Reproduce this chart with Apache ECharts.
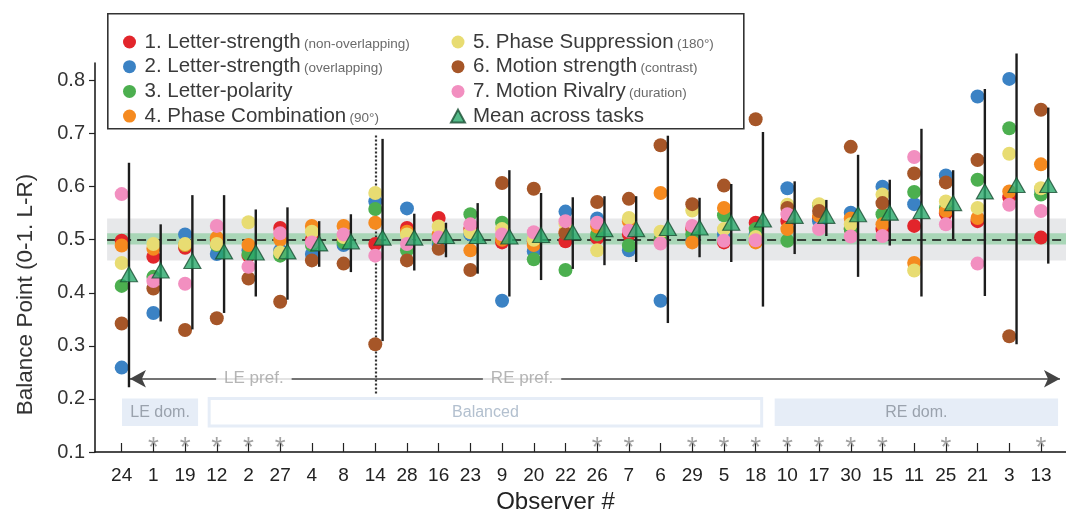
<!DOCTYPE html>
<html>
<head>
<meta charset="utf-8">
<script src="https://cdn.jsdelivr.net/npm/echarts@6/dist/echarts.min.js"></script>
<style>
  html, body { margin: 0; padding: 0; background: #fff; }
  #chart { width: 1066px; height: 519px; }
</style>
</head>
<body>
<div id="chart"></div>
<script>
// Observers, ordered from strongest left-eye to strongest right-eye preference
const observers = ['24','1','19','12','2','27','4','8','14','28','16','23','9','20','22',
                   '26','7','6','29','5','18','10','17','30','15','11','25','21','3','13'];

// Observers with a significant eye bias (marked with an asterisk above the axis)
const significant = ['1','19','12','2','27','26','7','29','5','18','10','17','30','15','25','13'];

const taskNames = ['1. Letter-strength', '2. Letter-strength', '3. Letter-polarity',
                   '4. Phase Combination', '5. Phase Suppression', '6. Motion strength',
                   '7. Motion Rivalry'];
const taskNotes = ['(non-overlapping)', '(overlapping)', '', '(90°)', '(180°)', '(contrast)', '(duration)'];
const meanName = 'Mean across tasks';

// Balance point per task, one value per observer (same order as `observers`)
const letterStrengthNonOverlap = [0.498,0.468,0.485,0.500,0.470,0.522,0.500,0.500,0.492,0.522,0.541,0.520,0.495,0.497,0.497,
                                  0.503,0.510,0.500,0.520,0.495,0.532,0.535,0.540,0.520,0.520,0.526,0.550,0.535,0.580,0.504];
const letterStrengthOverlap    = [0.259,0.362,0.510,0.473,0.480,0.480,0.473,0.490,0.572,0.559,0.490,0.510,0.385,0.478,0.553,
                                  0.540,0.480,0.385,0.500,0.510,0.510,0.597,0.535,0.551,0.600,0.567,0.621,0.770,0.803,0.594];
const letterPolarity           = [0.413,0.430,0.490,0.490,0.473,0.470,0.490,0.495,0.558,0.480,0.500,0.548,0.532,0.463,0.443,
                                  0.510,0.489,0.500,0.510,0.546,0.520,0.498,0.565,0.520,0.548,0.590,0.560,0.613,0.710,0.585];
const phaseCombination         = [0.489,0.483,0.490,0.504,0.490,0.500,0.526,0.526,0.532,0.515,0.510,0.480,0.500,0.490,0.515,
                                  0.525,0.535,0.588,0.495,0.560,0.495,0.520,0.545,0.540,0.529,0.456,0.554,0.541,0.591,0.642];
const phaseSuppression         = [0.456,0.492,0.492,0.492,0.533,0.476,0.515,0.505,0.588,0.510,0.525,0.514,0.520,0.500,0.530,
                                  0.480,0.541,0.515,0.555,0.520,0.505,0.566,0.567,0.529,0.585,0.442,0.572,0.560,0.662,0.597];
const motionStrength           = [0.342,0.408,0.330,0.352,0.427,0.383,0.461,0.455,0.303,0.461,0.483,0.443,0.607,0.596,0.512,
                                  0.571,0.577,0.678,0.567,0.602,0.727,0.560,0.554,0.675,0.569,0.625,0.608,0.650,0.318,0.745];
const motionRivalry            = [0.586,0.422,0.417,0.526,0.449,0.512,0.495,0.510,0.470,0.492,0.504,0.529,0.510,0.514,0.535,
                                  0.532,0.517,0.493,0.526,0.498,0.499,0.548,0.520,0.506,0.507,0.656,0.529,0.455,0.566,0.554];

// Mean across tasks and the extent of its vertical range bar
const meanAcrossTasks = [0.435,0.442,0.460,0.478,0.476,0.478,0.493,0.497,0.504,0.504,0.507,0.507,0.506,0.509,0.514,
                         0.520,0.520,0.522,0.523,0.532,0.538,0.545,0.545,0.548,0.551,0.554,0.569,0.591,0.603,0.603];
const rangeLow  = [0.222,0.346,0.331,0.362,0.393,0.387,0.449,0.439,0.309,0.442,0.467,0.436,0.393,0.424,0.445,
                   0.452,0.458,0.343,0.467,0.458,0.374,0.473,0.507,0.430,0.489,0.393,0.501,0.394,0.303,0.455];
const rangeHigh = [0.645,0.529,0.584,0.584,0.557,0.561,0.535,0.548,0.690,0.549,0.532,0.569,0.631,0.588,0.580,
                   0.582,0.582,0.696,0.579,0.605,0.703,0.610,0.575,0.660,0.613,0.709,0.631,0.784,0.851,0.749];

const yTicks = [0.1, 0.2, 0.3, 0.4, 0.5, 0.6, 0.7, 0.8];

// ---- styling ----
const FONT = '"Liberation Sans", Arial, Helvetica, sans-serif';
const taskColors = ['#e2252b', '#3b82c4', '#4caf4f', '#f58a1f', '#e8dc72', '#a65628', '#f28fc0'];
const BAR_SHIFT = 0.23;     // range bars and means sit just right of the task dots
const X_MIN = -0.842, X_MAX = 29.79;
const Y_MIN = 0.1, Y_MAX = 0.833;
const STAR_Y = 0.107;
const ARROW_Y = 0.238;
const SPLIT_X = observers.indexOf('14');

const taskValues = [letterStrengthNonOverlap, letterStrengthOverlap, letterPolarity, phaseCombination,
                    phaseSuppression, motionStrength, motionRivalry];
const fullName = t => taskNotes[t] ? taskNames[t] + ' ' + taskNotes[t] : taskNames[t];

const legendFormatter = name => {
  const t = taskValues.findIndex((_, k) => fullName(k) === name);
  if (t < 0) return '{a|' + name + '}';
  return taskNotes[t] ? '{a|' + taskNames[t] + '} {b|' + taskNotes[t] + '}' : '{a|' + taskNames[t] + '}';
};
const legendRich = {
  a: { fontSize: 20.5, lineHeight: 20, color: '#3a3a3a', fontFamily: FONT, padding: [0, 0, 0, 3] },
  b: { fontSize: 13.5, lineHeight: 20, color: '#6a6a6a', fontFamily: FONT, padding: [4, 0, 0, 0] }
};
const legendBase = {
  orient: 'vertical', itemWidth: 14, itemHeight: 13, itemGap: 3.7,
  selectedMode: false, z: 10, formatter: legendFormatter,
  textStyle: { rich: legendRich, fontFamily: FONT }
};

const taskSeries = taskValues.map((vals, t) => ({
  type: 'scatter', name: fullName(t), z: 3,
  symbol: 'circle', symbolSize: 14,
  itemStyle: { color: taskColors[t], opacity: 1 },
  emphasis: { disabled: true },
  data: vals.map((v, i) => [i, v])
}));

const option = {
  animation: false,
  backgroundColor: '#fff',
  textStyle: { fontFamily: FONT },
  grid: { left: 95, right: 0, top: 63, bottom: 61.5 },
  graphic: [{
    type: 'rect', left: 107, top: 13, z: 0,
    shape: { width: 636, height: 115 },
    style: { fill: '#fff', stroke: '#333', lineWidth: 1.6 }
  }],
  legend: [
    Object.assign({ left: 118, top: 26.5, data: taskNames.slice(0, 4).map((_, t) => fullName(t)) }, legendBase),
    Object.assign({ left: 445, top: 26.5, data: [fullName(4), fullName(5), fullName(6), meanName] }, legendBase)
  ],
  xAxis: {
    type: 'value', min: X_MIN, max: X_MAX,
    axisLine: { onZero: false, lineStyle: { color: '#111', width: 1.5 } },
    axisTick: { inside: true, length: 9, customValues: observers.map((_, i) => i),
                lineStyle: { color: '#222', width: 1.2 } },
    axisLabel: { customValues: observers.map((_, i) => i), formatter: v => observers[Math.round(v)],
                 fontSize: 19, color: '#222', margin: 14, fontFamily: FONT },
    splitLine: { show: false },
    name: 'Observer #', nameLocation: 'middle', nameGap: 38,
    nameTextStyle: { fontSize: 24, color: '#222', fontFamily: FONT, padding: [0, 50, 0, 0] }
  },
  yAxis: {
    type: 'value', min: Y_MIN, max: Y_MAX,
    axisLine: { onZero: false, lineStyle: { color: '#111', width: 1.5 } },
    axisTick: { length: 6, customValues: yTicks, lineStyle: { color: '#222', width: 1.2 } },
    axisLabel: { customValues: yTicks, formatter: v => v.toFixed(1),
                 fontSize: 20, color: '#333', margin: 10, fontFamily: FONT },
    splitLine: { show: false },
    name: 'Balance Point (0-1. L-R)', nameLocation: 'middle', nameGap: 58,
    nameTextStyle: { fontSize: 22.5, color: '#333', fontFamily: FONT, padding: [0, 74, 0, 0] }
  },
  series: [
    // reference bands, dominance boxes, split line and preference arrows
    {
      type: 'scatter', data: [], silent: true, z: 1,
      markArea: {
        silent: true, z: 1,
        data: [
          [{ coord: [-0.46, 0.461], itemStyle: { color: '#e7e8ea' } }, { coord: [X_MAX, 0.540] }],
          [{ coord: [-0.46, 0.491], itemStyle: { color: '#a9d6b7' } }, { coord: [X_MAX, 0.512] }],
          [{ name: 'LE dom.', coord: [0.01, 0.149], itemStyle: { color: '#e6edf7' } }, { coord: [2.41, 0.201] }],
          [{ name: 'Balanced', coord: [2.76, 0.149],
             itemStyle: { color: '#fff', borderColor: '#e6edf7', borderWidth: 3 },
             label: { color: '#b3c0cf' } }, { coord: [20.19, 0.201] }],
          [{ name: 'RE dom.', coord: [20.6, 0.149], itemStyle: { color: '#e6edf7' } }, { coord: [29.54, 0.201] }]
        ],
        label: { show: true, position: 'inside', fontSize: 16, color: '#9aa2ad', fontFamily: FONT }
      },
      markLine: {
        silent: true, z: 2, symbol: 'none',
        label: { show: false },
        data: [
          [{ coord: [-0.46, 0.5], lineStyle: { color: '#111', width: 1.6, type: [9, 6] } }, { coord: [X_MAX, 0.5] }],
          [{ coord: [SPLIT_X, 0.21], lineStyle: { color: '#333', width: 2.2, type: [2, 2] } }, { coord: [SPLIT_X, 0.70] }],
          [{ coord: [SPLIT_X, ARROW_Y], symbol: 'none', lineStyle: { color: '#444', width: 1.5, type: 'solid' } },
           { coord: [0.26, ARROW_Y], symbol: 'arrow', symbolSize: [13, 16] }],
          [{ coord: [SPLIT_X, ARROW_Y], symbol: 'none', lineStyle: { color: '#444', width: 1.5, type: 'solid' } },
           { coord: [29.6, ARROW_Y], symbol: 'arrow', symbolSize: [13, 16] }]
        ]
      }
    },
    // arrow captions
    {
      type: 'scatter', silent: true, z: 3, symbolSize: 1,
      itemStyle: { color: 'transparent' },
      data: [[4.17, ARROW_Y, 'LE pref.'], [12.63, ARROW_Y, 'RE pref.']],
      label: { show: true, position: 'inside', formatter: p => p.value[2],
               fontSize: 17, color: '#a2a2a2', backgroundColor: '#fff', padding: [2, 8], fontFamily: FONT }
    },
    ...taskSeries,
    // range bar for each observer
    {
      type: 'custom', z: 4, silent: true, clip: false,
      data: rangeLow.map((lo, i) => [i, lo, rangeHigh[i]]),
      renderItem: (params, api) => {
        const x = api.value(0) + BAR_SHIFT;
        const a = api.coord([x, api.value(1)]);
        const b = api.coord([x, api.value(2)]);
        return { type: 'line', shape: { x1: a[0], y1: a[1], x2: b[0], y2: b[1] },
                 style: { stroke: '#1c1c1c', lineWidth: 2.4 } };
      }
    },
    {
      type: 'scatter', name: meanName, z: 5,
      symbol: 'triangle', symbolSize: [17, 15],
      itemStyle: { color: '#2aa96b', borderColor: '#1a4f33', borderWidth: 1.2 },
      emphasis: { disabled: true },
      data: meanAcrossTasks.map((v, i) => [i + BAR_SHIFT, v])
    },
    // significance markers
    {
      type: 'scatter', silent: true, z: 3, symbolSize: 1,
      itemStyle: { color: 'transparent' },
      data: significant.map(o => [observers.indexOf(o), STAR_Y]),
      label: { show: true, position: 'inside', formatter: '*', fontSize: 28, color: '#8c8c8c', fontFamily: FONT }
    }
  ]
};

const chart = echarts.init(document.getElementById('chart'), null, { renderer: 'canvas' });
chart.setOption(option);
</script>
</body>
</html>
